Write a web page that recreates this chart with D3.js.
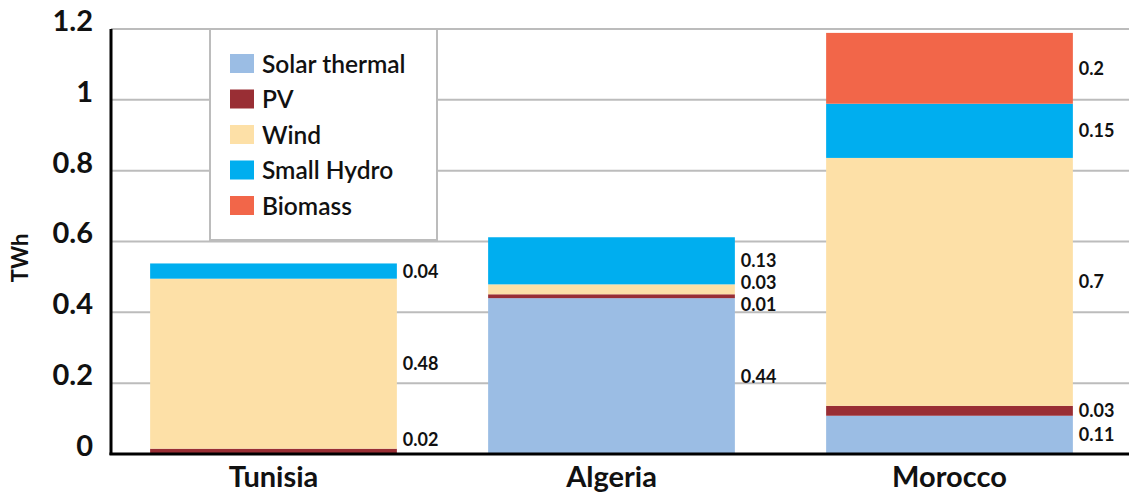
<!DOCTYPE html>
<html>
<head>
<meta charset="utf-8">
<script src="https://cdn.jsdelivr.net/npm/d3@7"></script>
<style>
  body { margin: 0; background: #fff; }
  svg { display: block; font-family: Lato, sans-serif; }
</style>
</head>
<body>
<svg width="1129" height="500"></svg>
<script>
// Data
const countries = ["Tunisia", "Algeria", "Morocco"];
const sources = ["Solar thermal", "PV", "Wind", "Small Hydro", "Biomass"];
const colors = ["#9bbde4", "#992e34", "#fde0a7", "#00aeef", "#f26649"];

const solarThermal = [0, 0.44, 0.108];
const pv = [0.015, 0.011, 0.028];
const wind = [0.48, 0.028, 0.70];
const smallHydro = [0.043, 0.133, 0.153];
const biomass = [0, 0, 0.2];

// value labels shown beside each segment ("" = none)
const solarLabels = ["", "0.44", "0.11"];
const pvLabels = ["0.02", "0.01", "0.03"];
const windLabels = ["0.48", "0.03", "0.7"];
const hydroLabels = ["0.04", "0.13", "0.15"];
const biomassLabels = ["", "", "0.2"];

const yTicks = [0, 0.2, 0.4, 0.6, 0.8, 1, 1.2];
const yTickLabels = ["0", "0.2", "0.4", "0.6", "0.8", "1", "1.2"];

const seriesValues = [solarThermal, pv, wind, smallHydro, biomass];
const seriesLabels = [solarLabels, pvLabels, windLabels, hydroLabels, biomassLabels];

// table for d3.stack
const table = countries.map((c, i) => {
  const row = { country: c };
  sources.forEach((s, j) => row[s] = seriesValues[j][i]);
  return row;
});

const stacked = d3.stack().keys(sources)(table);

const plotLeft = 111, plotRight = 1129, plotTop = 29, plotBottom = 454;

const x = d3.scaleBand()
  .domain(countries)
  .range([104.5, 1118.5])
  .paddingInner(0.27)
  .paddingOuter(0.135);

const y = d3.scaleLinear()
  .domain([0, 1.2])
  .range([plotBottom, plotTop]);

const svg = d3.select('svg');

// horizontal gridlines
svg.append('g')
  .attr('class', 'grid')
  .selectAll('line')
  .data(yTicks.filter(d => d > 0))
  .enter().append('line')
  .attr('x1', plotLeft)
  .attr('x2', plotRight)
  .attr('y1', d => y(d))
  .attr('y2', d => y(d))
  .attr('stroke', '#bcbcbc')
  .attr('stroke-width', 2);

// legend box (sits on the grid)
const legendX = 210, legendY = 29, legendW = 227, legendH = 211;
svg.append('rect')
  .attr('x', legendX)
  .attr('y', legendY)
  .attr('width', legendW)
  .attr('height', legendH)
  .attr('fill', '#fff')
  .attr('stroke', '#bcbcbc')
  .attr('stroke-width', 2);

const legend = svg.append('g')
  .attr('class', 'legend')
  .selectAll('g')
  .data(sources)
  .enter().append('g')
  .attr('transform', (d, i) => `translate(${legendX + 20}, ${legendY + 25 + i * 35.5})`);

legend.append('rect')
  .attr('width', 24)
  .attr('height', 19)
  .attr('fill', (d, i) => colors[i]);

legend.append('text')
  .attr('x', 32)
  .attr('y', 10)
  .attr('dy', '0.36em')
  .attr('font-size', 24.5)
  .attr('font-weight', 600)
  .attr('fill', '#111')
  .text(d => d);

// bars
svg.append('g')
  .attr('class', 'bar-container')
  .selectAll('g')
  .data(stacked)
  .enter().append('g')
  .attr('fill', (d, i) => colors[i])
  .selectAll('rect')
  .data(d => d)
  .enter().append('rect')
  .attr('x', d => x(d.data.country))
  .attr('y', d => y(d[1]))
  .attr('width', x.bandwidth())
  .attr('height', d => y(d[0]) - y(d[1]));

// value labels: segment centres, nudged apart where they collide
const minGap = 22;
countries.forEach((c, ci) => {
  let labels = [];
  stacked.forEach((layer, li) => {
    const txt = seriesLabels[li][ci];
    if (!txt) return;
    const seg = layer[ci];
    labels.push({ text: txt, pos: Math.min((y(seg[0]) + y(seg[1])) / 2, plotBottom - 14) });
  });
  for (let iter = 0; iter < 50; iter++) {
    for (let k = 1; k < labels.length; k++) {
      const a = labels[k - 1], b = labels[k];
      const gap = a.pos - b.pos;
      if (gap < minGap) {
        const shift = (minGap - gap) / 2;
        a.pos += shift;
        b.pos -= shift;
      }
    }
  }
  svg.append('g')
    .selectAll('text')
    .data(labels)
    .enter().append('text')
    .attr('x', x(c) + x.bandwidth() + 6)
    .attr('y', d => d.pos)
    .attr('dy', '0.36em')
    .attr('font-size', 18)
    .attr('font-weight', 700)
    .attr('fill', '#111')
    .text(d => d.text);
});

// axes
const yAxis = d3.axisLeft(y)
  .tickValues(yTicks)
  .tickSize(0)
  .tickPadding(18)
  .tickFormat((d, i) => yTickLabels[i]);

const yG = svg.append('g')
  .attr('class', 'axis y')
  .attr('transform', `translate(${plotLeft}, 0)`)
  .call(yAxis);
yG.select('.domain').remove();
yG.selectAll('text')
  .attr('font-size', 29)
  .attr('font-weight', 700)
  .attr('font-family', 'Lato, sans-serif')
  .attr('fill', '#111')
  .attr('dy', '0.05em');

svg.append('line')
  .attr('x1', plotLeft)
  .attr('x2', plotLeft)
  .attr('y1', plotTop)
  .attr('y2', plotBottom + 1)
  .attr('stroke', '#000')
  .attr('stroke-width', 3);

const xAxis = d3.axisBottom(x).tickSize(0).tickPadding(12);
const xG = svg.append('g')
  .attr('class', 'axis x')
  .attr('transform', `translate(0, ${plotBottom})`)
  .call(xAxis);
xG.select('.domain').remove();
xG.selectAll('text')
  .attr('font-size', 29)
  .attr('font-weight', 700)
  .attr('font-family', 'Lato, sans-serif')
  .attr('fill', '#111');

svg.append('line')
  .attr('x1', plotLeft - 1.5)
  .attr('x2', plotRight)
  .attr('y1', plotBottom)
  .attr('y2', plotBottom)
  .attr('stroke', '#000')
  .attr('stroke-width', 3);

// y axis title
svg.append('text')
  .attr('transform', `translate(28, 258) rotate(-90)`)
  .attr('text-anchor', 'middle')
  .attr('font-size', 22)
  .attr('font-weight', 700)
  .attr('fill', '#111')
  .text('TWh');
</script>
</body>
</html>
